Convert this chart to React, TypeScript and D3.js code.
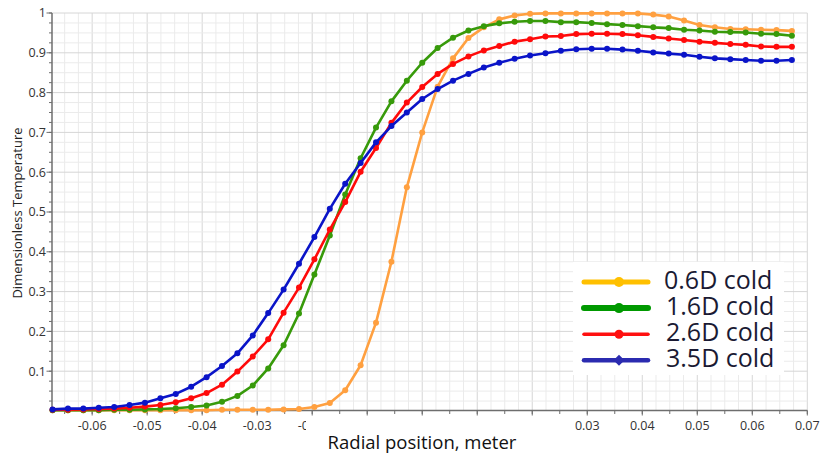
import React, { useEffect, useRef } from "react";
import * as d3 from "d3";

const W = 825;
const H = 458;

// Radial positions (meter)
const radialPosition = [
  -0.0672, -0.0644, -0.0616, -0.0588, -0.056, -0.0532, -0.0504, -0.0476, -0.0448, -0.042,
  -0.0392, -0.0364, -0.0336, -0.0308, -0.028, -0.0252, -0.0224, -0.0196, -0.0168, -0.014,
  -0.0112, -0.0084, -0.0056, -0.0028, 0, 0.0028, 0.0056, 0.0084, 0.0112, 0.014,
  0.0168, 0.0196, 0.0224, 0.0252, 0.028, 0.0308, 0.0336, 0.0364, 0.0392, 0.042,
  0.0448, 0.0476, 0.0504, 0.0532, 0.056, 0.0588, 0.0616, 0.0644, 0.0672,
];

const seriesNames = ["0.6D cold", "1.6D cold", "2.6D cold", "3.5D cold"];

const temp06D = [
  0.002, 0.002, 0.002, 0.002, 0.002, 0.002, 0.002, 0.002, 0.002, 0.002,
  0.002, 0.003, 0.003, 0.003, 0.003, 0.004, 0.005, 0.010, 0.020, 0.052,
  0.115, 0.222, 0.375, 0.562, 0.700, 0.815, 0.886, 0.937, 0.964, 0.984,
  0.994, 0.998, 0.999, 0.999, 0.999, 0.999, 0.999, 0.999, 0.999, 0.996,
  0.991, 0.981, 0.970, 0.964, 0.960, 0.959, 0.958, 0.957, 0.955,
];

const temp16D = [
  0.002, 0.002, 0.002, 0.002, 0.003, 0.003, 0.004, 0.005, 0.007, 0.010,
  0.014, 0.023, 0.038, 0.064, 0.107, 0.165, 0.245, 0.343, 0.441, 0.544,
  0.635, 0.712, 0.778, 0.830, 0.875, 0.912, 0.938, 0.956, 0.967, 0.974,
  0.978, 0.980, 0.980, 0.977, 0.977, 0.975, 0.972, 0.970, 0.967, 0.964,
  0.962, 0.958, 0.956, 0.953, 0.952, 0.951, 0.948, 0.947, 0.943,
];

const temp26D = [
  0.003, 0.003, 0.004, 0.005, 0.006, 0.008, 0.011, 0.015, 0.022, 0.032,
  0.045, 0.066, 0.099, 0.137, 0.180, 0.247, 0.310, 0.381, 0.456, 0.525,
  0.601, 0.661, 0.724, 0.775, 0.814, 0.847, 0.872, 0.891, 0.906, 0.917,
  0.928, 0.934, 0.941, 0.942, 0.947, 0.948, 0.948, 0.947, 0.944, 0.940,
  0.936, 0.932, 0.928, 0.925, 0.922, 0.920, 0.916, 0.915, 0.915,
];

const temp35D = [
  0.004, 0.006, 0.006, 0.008, 0.010, 0.015, 0.021, 0.032, 0.043, 0.061,
  0.085, 0.113, 0.145, 0.190, 0.246, 0.305, 0.370, 0.437, 0.508, 0.571,
  0.623, 0.675, 0.716, 0.750, 0.784, 0.809, 0.830, 0.847, 0.863, 0.875,
  0.885, 0.893, 0.899, 0.905, 0.909, 0.910, 0.910, 0.908, 0.905, 0.901,
  0.898, 0.895, 0.890, 0.886, 0.884, 0.882, 0.880, 0.880, 0.882,
];

const xTickValues = [-0.06, -0.05, -0.04, -0.03, -0.02, -0.01, 0, 0.01, 0.02, 0.03, 0.04, 0.05, 0.06, 0.07];
const xTickLabels = ["-0.06", "-0.05", "-0.04", "-0.03", "-0.02", "-0.01", "0", "0.01", "0.02", "0.03", "0.04", "0.05", "0.06", "0.07"];
const yTickValues = [0.1, 0.2, 0.3, 0.4, 0.5, 0.6, 0.7, 0.8, 0.9, 1];
const yTickLabels = ["0.1", "0.2", "0.3", "0.4", "0.5", "0.6", "0.7", "0.8", "0.9", "1"];

const lineColors = ["#FFA040", "#379A0A", "#FF0A0A", "#0A14C8"];
const legendColors = ["#FFC000", "#009900", "#FF1010", "#2B2BB0"];

export default function App() {
  const ref = useRef<SVGSVGElement>(null);

  useEffect(() => {
    const svg = d3.select(ref.current);
    svg.selectAll("*").remove();

    const left = 52, right = 807.3, top = 13, bottom = 410.5;
    const x = d3.scaleLinear().domain([-0.0673, 0.07]).range([left, right]);
    const y = d3.scaleLinear().domain([0, 1]).range([411, top]);

    const g = svg.append("g");

    // grid
    const eps = 1e-9;
    const vMinor = d3.range(-27, 29).map((i) => i * 0.0025).filter((v) => v >= -0.0673 && v <= 0.07 + eps);
    const hMinor = d3.range(1, 41).map((i) => i * 0.025);
    const grid = g.append("g");
    grid.selectAll("line.vg").data(vMinor).join("line")
      .attr("x1", (d) => x(d)).attr("x2", (d) => x(d))
      .attr("y1", top).attr("y2", bottom)
      .attr("stroke", (d) => (Math.abs(Math.round(d * 100) - d * 100) < 1e-6 ? "#d6d6d6" : "#ebebeb"))
      .attr("stroke-width", 1);
    grid.selectAll("line.hg").data(hMinor).join("line")
      .attr("x1", left).attr("x2", right)
      .attr("y1", (d) => y(d)).attr("y2", (d) => y(d))
      .attr("stroke", (d) => (Math.abs(Math.round(d * 10) - d * 10) < 1e-6 ? "#d6d6d6" : "#ebebeb"))
      .attr("stroke-width", 1);

    const tickFont = "'Open Sans', sans-serif";

    // left axis
    const ax = g.append("g");
    ax.append("line").attr("x1", left).attr("x2", left).attr("y1", top).attr("y2", bottom)
      .attr("stroke", "#6e6e6e").attr("stroke-width", 1.5);
    ax.selectAll("line.ymin").data(hMinor).join("line")
      .attr("x1", left - 3).attr("x2", left)
      .attr("y1", (d) => y(d)).attr("y2", (d) => y(d))
      .attr("stroke", "#6e6e6e").attr("stroke-width", 1);
    ax.selectAll("line.ymaj").data(yTickValues).join("line")
      .attr("x1", left - 5.5).attr("x2", left)
      .attr("y1", (d) => y(d)).attr("y2", (d) => y(d))
      .attr("stroke", "#6e6e6e").attr("stroke-width", 1);
    ax.selectAll("text.yl").data(yTickValues).join("text")
      .attr("x", left - 6).attr("y", (d) => y(d)).attr("dy", "0.35em")
      .attr("text-anchor", "end").attr("font-family", tickFont).attr("font-size", 12.5)
      .attr("fill", "#333").text((_, i) => yTickLabels[i]);

    // bottom axis
    const xMinor = d3.range(-13, 15).map((i) => i * 0.005).filter((v) => v >= -0.0673 && v <= 0.07 + eps);
    ax.append("line").attr("x1", left).attr("x2", right).attr("y1", bottom).attr("y2", bottom)
      .attr("stroke", "#6e6e6e").attr("stroke-width", 1.5);
    ax.selectAll("line.xmin").data(xMinor).join("line")
      .attr("x1", (d) => x(d)).attr("x2", (d) => x(d))
      .attr("y1", bottom).attr("y2", bottom + 3.5)
      .attr("stroke", "#6e6e6e").attr("stroke-width", 1);
    ax.selectAll("line.xmaj").data(xTickValues).join("line")
      .attr("x1", (d) => x(d)).attr("x2", (d) => x(d))
      .attr("y1", bottom).attr("y2", bottom + 5)
      .attr("stroke", "#6e6e6e").attr("stroke-width", 1);
    ax.selectAll("text.xl").data(xTickValues).join("text")
      .attr("x", (d) => x(d)).attr("y", 429.5)
      .attr("text-anchor", "middle").attr("font-family", tickFont).attr("font-size", 12.5)
      .attr("fill", "#333").text((_, i) => xTickLabels[i]);

    // occluding box over middle x labels (as in reference)
    g.append("rect").attr("x", 306).attr("y", 421).attr("width", 260).attr("height", 16).attr("fill", "#fff");

    // series
    const seriesData = [temp06D, temp16D, temp26D, temp35D];
    const line = d3.line<number>().x((_, i) => x(radialPosition[i])).y((d) => y(d));
    seriesData.forEach((vals, si) => {
      const sg = g.append("g");
      sg.append("path").attr("d", line(vals)).attr("fill", "none")
        .attr("stroke", lineColors[si]).attr("stroke-width", 2.6).attr("stroke-linejoin", "round");
      sg.selectAll("circle").data(vals).join("circle")
        .attr("cx", (_, i) => x(radialPosition[i])).attr("cy", (d) => y(d))
        .attr("r", 3).attr("fill", lineColors[si]);
    });

    // axis titles
    g.append("text").attr("x", 422).attr("y", 449).attr("text-anchor", "middle")
      .attr("font-family", tickFont).attr("font-size", 18.5).attr("fill", "#111")
      .text("Radial position, meter");
    g.append("text").attr("transform", "translate(22,213) rotate(-90)").attr("text-anchor", "middle")
      .attr("font-family", tickFont).attr("font-size", 13).attr("fill", "#222")
      .text("Dimensionless Temperature");

    // legend
    const lg = g.append("g");
    lg.append("rect").attr("x", 573).attr("y", 262).attr("width", 211).attr("height", 113).attr("fill", "#fff");
    const lw = [5, 6, 3.5, 4.5];
    seriesNames.forEach((name, i) => {
      const ly = 282 + i * 26.1;
      lg.append("line").attr("x1", 584).attr("x2", 648).attr("y1", ly).attr("y2", ly)
        .attr("stroke", legendColors[i]).attr("stroke-width", lw[i]).attr("stroke-linecap", "round");
      if (i === 3) {
        lg.append("path").attr("d", `M619,${ly - 5.5}L624.5,${ly}L619,${ly + 5.5}L613.5,${ly}Z`).attr("fill", legendColors[i]);
      } else {
        lg.append("circle").attr("cx", 619).attr("cy", ly).attr("r", i === 2 ? 4.5 : 5).attr("fill", legendColors[i]);
      }
      lg.append("text").attr("x", i === 0 ? 664 : 666).attr("y", ly + 6.5)
        .attr("font-family", tickFont).attr("font-size", 25).attr("fill", "#1a1a33")
        .text(name);
    });
  }, []);

  return (
    <svg
      ref={ref}
      width={W}
      height={H}
      style={{ position: "absolute", left: 0, top: 0, background: "#fff", display: "block" }}
    />
  );
}
